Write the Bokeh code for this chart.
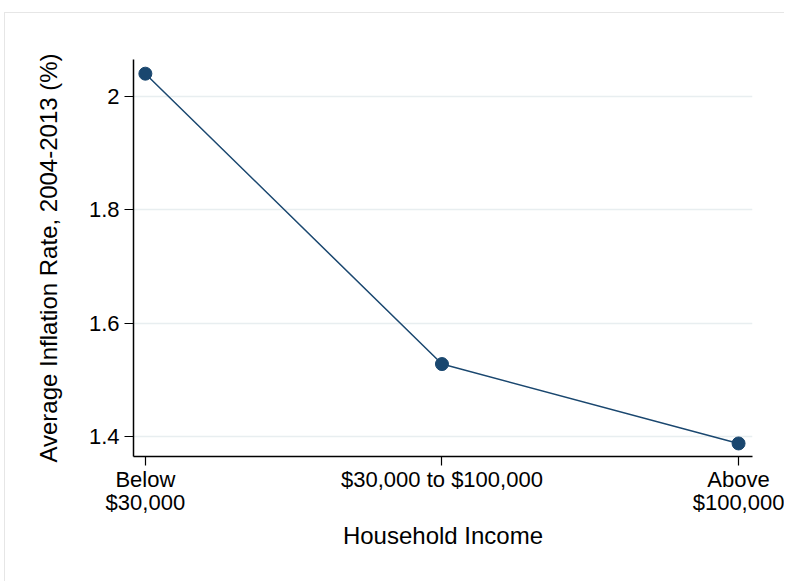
from bokeh.plotting import figure
from bokeh.models import Range1d, FixedTicker, ColumnDataSource
from bokeh.embed import file_html
from bokeh.resources import INLINE

# Data
categories = ["Below\n$30,000", "$30,000 to $100,000", "Above\n$100,000"]
positions = [1, 2, 3]
inflation = [2.040, 1.528, 1.388]
y_ticks = [1.4, 1.6, 1.8, 2.0]
y_tick_labels = ["1.4", "1.6", "1.8", "2"]

FONT = "Liberation Sans"
NAVY = "#1a476f"

src = ColumnDataSource(dict(x=positions, y=inflation))

p = figure(width=780, height=569, output_backend="svg", toolbar_location=None,
           x_range=Range1d(0.96, 3.047), y_range=Range1d(1.365, 2.065),
           min_border_left=128, min_border_right=33, min_border_top=46,
           min_border_bottom=126)
p.styles = {"border-left": "1px solid #e6e6e6", "border-top": "1px solid #e6e6e6",
            "margin-left": "4px", "margin-top": "12px"}

p.line("x", "y", source=src, line_color=NAVY, line_width=1.5)
p.scatter("x", "y", source=src, size=13, fill_color=NAVY, line_color=NAVY)

p.outline_line_color = None
p.background_fill_color = "white"
p.border_fill_color = "white"

# x axis
p.xaxis.ticker = FixedTicker(ticks=positions)
p.xaxis.major_label_overrides = {pos: lab for pos, lab in zip(positions, categories)}
p.xaxis.axis_label = "Household Income"
p.xaxis.minor_tick_line_color = None
p.xgrid.grid_line_color = None

# y axis
p.yaxis.ticker = FixedTicker(ticks=y_ticks)
p.yaxis.major_label_overrides = {t: l for t, l in zip(y_ticks, y_tick_labels)}
p.yaxis.axis_label = "Average Inflation Rate, 2004-2013 (%)"
p.yaxis.minor_tick_line_color = None
p.yaxis.major_label_orientation = "horizontal"
p.ygrid.grid_line_color = "#e8eef0"
p.ygrid.grid_line_width = 1.5

for ax in (p.xaxis, p.yaxis):
    ax.axis_line_color = "black"
    ax.axis_line_width = 1.5
    ax.major_tick_line_color = "black"
    ax.major_tick_line_width = 1.2
    ax.major_tick_out = 9
    ax.major_tick_in = 0
    ax.major_label_text_font = FONT
    ax.major_label_text_color = "black"
    ax.axis_label_text_font = FONT
    ax.axis_label_text_font_style = "normal"
    ax.axis_label_text_color = "black"
    ax.axis_label_text_font_size = "24px"

p.xaxis.major_label_text_font_size = "22px"
p.xaxis.major_label_text_line_height = 0.95
p.yaxis.major_label_text_font_size = "22px"
p.xaxis.major_label_standoff = 1
p.xaxis.axis_label_standoff = 4
p.yaxis.major_label_standoff = 5
p.yaxis.axis_label_standoff = 24

open("out.html", "w").write(file_html(p, INLINE))
